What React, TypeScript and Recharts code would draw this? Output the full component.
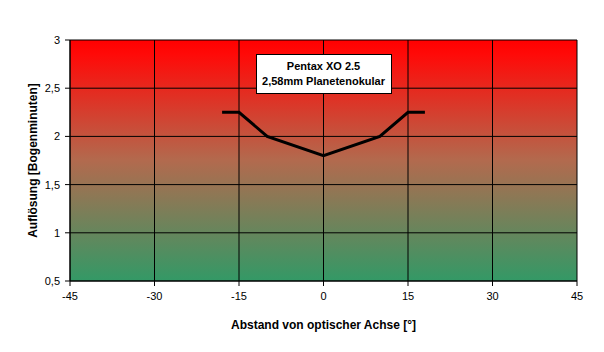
import React from 'react';
import { ComposedChart, Line, XAxis, YAxis, CartesianGrid, Label, ReferenceArea } from 'recharts';

const angles = [-18, -15, -10, 0, 10, 15, 18];
const resolution = [2.25, 2.25, 2.0, 1.8, 2.0, 2.25, 2.25];
const xTicks = [-45, -30, -15, 0, 15, 30, 45];
const yTicks = [0.5, 1, 1.5, 2, 2.5, 3];
const titleLines = ['Pentax XO 2.5', '2,58mm Planetenokular'];

const data = angles.map((a, i) => ({ x: a, y: resolution[i] }));

const fmt = (v: number) => String(v).replace('.', ',');

const font = 'Arial, "Liberation Sans", sans-serif';

const TitleBox = (props: any) => {
  const { viewBox } = props;
  const cx = viewBox.x + viewBox.width / 2;
  const w = 135;
  const h = 39;
  const top = 54;
  return (
    <g>
      <rect x={cx - w / 2 + 0.5} y={top + 0.5} width={w} height={h} fill="#fff" stroke="#000" strokeWidth={1} />
      <text x={cx} y={top + 16} textAnchor="middle" fontFamily={font} fontWeight="bold" fontSize={11} fill="#000">{titleLines[0]}</text>
      <text x={cx} y={top + 31} textAnchor="middle" fontFamily={font} fontWeight="bold" fontSize={11} fill="#000">{titleLines[1]}</text>
    </g>
  );
};

export default function App() {
  return (
    <div style={{ position: 'absolute', left: 0, top: 0, width: 604, height: 352, background: '#fff' }}>
      <ComposedChart width={604} height={352} data={data} margin={{ top: 40, right: 27, bottom: 21, left: 0 }}>
        <defs>
          <linearGradient id="bg" x1="0" y1="0" x2="0" y2="1">
            <stop offset="0%" stopColor="#FF0000" />
            <stop offset="6%" stopColor="#FF0A08" />
            <stop offset="50%" stopColor="#B26A4E" />
            <stop offset="100%" stopColor="#339966" />
          </linearGradient>
        </defs>
        <CartesianGrid stroke="#000" strokeWidth={1} fill="url(#bg)" fillOpacity={1} horizontalValues={yTicks} verticalValues={xTicks} />
        <XAxis
          type="number"
          dataKey="x"
          domain={[-45, 45]}
          ticks={xTicks}
          height={50}
          stroke="#000"
          tickSize={5}
          tick={{ fill: '#000', fontSize: 11, fontFamily: font, dy: 4 }}
          interval={0}
          allowDataOverflow
        >
          <Label value="Abstand von optischer Achse [°]" position="insideBottom" offset={2} style={{ fontFamily: font, fontWeight: 'bold', fontSize: 12, fill: '#000' }} />
        </XAxis>
        <YAxis
          type="number"
          domain={[0.5, 3]}
          ticks={yTicks}
          width={70}
          stroke="#000"
          tickSize={5}
          tickFormatter={fmt}
          tick={{ fill: '#000', fontSize: 11, fontFamily: font, dx: -3 }}
          interval={0}
          allowDataOverflow
        >
          <Label value="Auflösung [Bogenminuten]" angle={-90} position="insideLeft" offset={33} style={{ textAnchor: 'middle', fontFamily: font, fontWeight: 'bold', fontSize: 12, fill: '#000' }} />
        </YAxis>
        <ReferenceArea x1={-45} x2={45} y1={0.5} y2={3} fill="none" stroke="none" label={<TitleBox />} />
        <Line type="linear" dataKey="y" stroke="#000" strokeWidth={3} dot={false} isAnimationActive={false} />
      </ComposedChart>
    </div>
  );
}
